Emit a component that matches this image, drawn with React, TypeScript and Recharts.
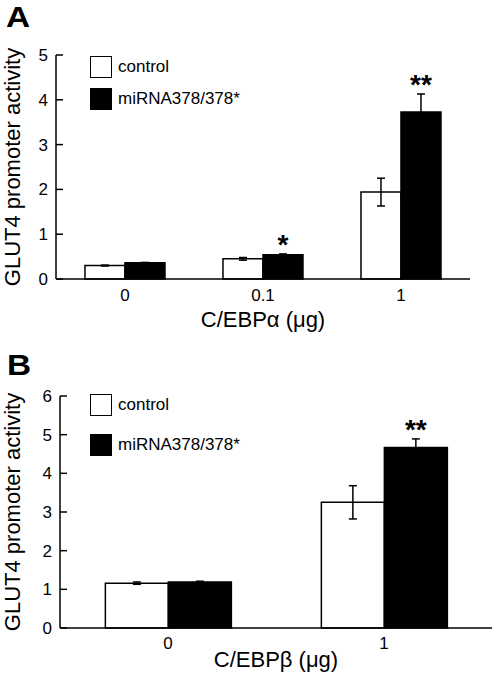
import React from 'react';
import { BarChart, Bar, XAxis, YAxis, ErrorBar, LabelList, Label } from 'recharts';

const FONT = '"Liberation Sans", Arial, Helvetica, sans-serif';

const seriesNames = ['control', 'miRNA378/378*'];
const seriesFills = ['#ffffff', '#000000'];

const categoriesA = ['0', '0.1', '1'];
const controlA = [0.3, 0.45, 1.94];
const controlErrA = [0.01, 0.03, 0.31];
const mirnaA = [0.36, 0.54, 3.73];
const mirnaErrA = [0.01, 0.02, 0.4];
const sigA = ['', '*', '**'];
const yTicksA = [0, 1, 2, 3, 4, 5];
const xTitleA = 'C/EBP\u03B1 (\u03BCg)';

const categoriesB = ['0', '1'];
const controlB = [1.16, 3.25];
const controlErrB = [0.03, 0.43];
const mirnaB = [1.19, 4.67];
const mirnaErrB = [0.02, 0.22];
const sigB = ['', '**'];
const yTicksB = [0, 1, 2, 3, 4, 5, 6];
const xTitleB = 'C/EBP\u03B2 (\u03BCg)';

const yTitle = 'GLUT4 promoter activity';
const panelLabels = ['A', 'B'];

type Row = { cat: string; control: number; controlErr: number; mirna: number; mirnaErr: number; sig: string };

const buildRows = (cats: string[], c: number[], ce: number[], m: number[], me: number[], s: string[]): Row[] =>
  cats.map((cat, i) => ({ cat, control: c[i], controlErr: ce[i], mirna: m[i], mirnaErr: me[i], sig: s[i] }));

const rowsA = buildRows(categoriesA, controlA, controlErrA, mirnaA, mirnaErrA, sigA);
const rowsB = buildRows(categoriesB, controlB, controlErrB, mirnaB, mirnaErrB, sigB);

const TICK_MARGIN_Y = 8;
const TICK_LEN = 7;

const YTick = (props: any) => {
  const { x, y, payload } = props;
  return (
    <g>
      <line x1={x + TICK_MARGIN_Y} x2={x + TICK_MARGIN_Y + TICK_LEN} y1={y} y2={y} stroke="#000" strokeWidth={1.5} />
      <text x={x} y={y} dy="0.355em" textAnchor="end" fontSize={17} fontFamily={FONT} fill="#000">
        {payload.value}
      </text>
    </g>
  );
};

const XTick = (props: any) => {
  const { x, y, payload } = props;
  return (
    <text x={x} y={y} dy="0.71em" textAnchor="middle" fontSize={17} fontFamily={FONT} fill="#000">
      {payload.value}
    </text>
  );
};

const makeXTitle = (title: string, baselineOffset: number) => (props: any) => {
  const vb = props.viewBox || {};
  return (
    <text x={vb.x + vb.width / 2} y={vb.y + baselineOffset} textAnchor="middle" fontSize={22} fontFamily={FONT} fill="#000">
      {title}
    </text>
  );
};

const makeYTitle = (title: string) => (props: any) => {
  const vb = props.viewBox || {};
  const cx = 20;
  const cy = vb.y + vb.height / 2;
  return (
    <text x={cx} y={cy} transform={`rotate(-90, ${cx}, ${cy})`} textAnchor="middle" fontSize={22} fontFamily={FONT} fill="#000">
      {title}
    </text>
  );
};

const makeStar = (rows: Row[]) => (props: any) => {
  const vb = props.viewBox || {};
  const x = props.x ?? vb.x;
  const y = props.y ?? vb.y;
  const width = props.width ?? vb.width;
  const height = props.height ?? vb.height;
  const idx = props.index;
  const row = rows[idx];
  if (!row || !row.sig) return null;
  const ppu = height / row.mirna;
  const top = y - row.mirnaErr * ppu;
  return (
    <text x={x + width / 2} y={top} textAnchor="middle" fontSize={28} fontWeight="bold" fontFamily={FONT} fill="#000">
      {row.sig}
    </text>
  );
};

const LegendBox = ({ left, top, pitch }: { left: number; top: number; pitch: number }) => (
  <div style={{ position: 'absolute', left, top }}>
    {seriesNames.map((name, i) => (
      <div key={name} style={{ position: 'absolute', left: 0, top: i * pitch, display: 'flex', alignItems: 'center', whiteSpace: 'nowrap' }}>
        <div style={{ width: 22, height: 22, boxSizing: 'border-box', border: '1.5px solid #000', background: seriesFills[i] }} />
        <span style={{ marginLeft: 6, fontSize: 17, lineHeight: '22px', fontFamily: FONT, color: '#000' }}>{name}</span>
      </div>
    ))}
  </div>
);

export default function App() {
  return (
    <div style={{ position: 'absolute', left: 0, top: 0, width: 497, height: 674, background: '#fff', overflow: 'hidden' }}>
      <div style={{ position: 'absolute', left: 0, top: 0 }}>
        <BarChart width={497} height={340} data={rowsA} margin={{ top: 55, right: 27, left: 0, bottom: 11 }} barCategoryGap="21%" barGap={0}>
          <XAxis dataKey="cat" height={50} tickLine={false} tickSize={0} tickMargin={10} tick={<XTick />} axisLine={{ stroke: '#000', strokeWidth: 1.5 }}>
            <Label content={makeXTitle(xTitleA, 48)} />
          </XAxis>
          <YAxis type="number" domain={[0, 5]} ticks={yTicksA} width={56} tickLine={false} tickSize={0} tickMargin={TICK_MARGIN_Y} tick={<YTick />} axisLine={{ stroke: '#000', strokeWidth: 1.5 }} interval={0}>
            <Label content={makeYTitle(yTitle)} />
          </YAxis>
          <Bar dataKey="control" fill={seriesFills[0]} stroke="#000" strokeWidth={1.5} isAnimationActive={false}>
            <ErrorBar dataKey="controlErr" width={4} stroke="#000" strokeWidth={1.5} direction="y" />
          </Bar>
          <Bar dataKey="mirna" fill={seriesFills[1]} stroke="#000" strokeWidth={1.5} isAnimationActive={false}>
            <ErrorBar dataKey="mirnaErr" width={4} stroke="#000" strokeWidth={1.5} direction="y" />
            <LabelList dataKey="sig" content={makeStar(rowsA)} />
          </Bar>
        </BarChart>
      </div>
      <div style={{ position: 'absolute', left: 0, top: 330 }}>
        <BarChart width={497} height={344} data={rowsB} margin={{ top: 66, right: 5, left: 0, bottom: 1 }} barCategoryGap="21%" barGap={0}>
          <XAxis dataKey="cat" height={45} tickLine={false} tickSize={0} tickMargin={9} tick={<XTick />} axisLine={{ stroke: '#000', strokeWidth: 1.5 }}>
            <Label content={makeXTitle(xTitleB, 39)} />
          </XAxis>
          <YAxis type="number" domain={[0, 6]} ticks={yTicksB} width={60} tickLine={false} tickSize={0} tickMargin={TICK_MARGIN_Y} tick={<YTick />} axisLine={{ stroke: '#000', strokeWidth: 1.5 }} interval={0}>
            <Label content={makeYTitle(yTitle)} />
          </YAxis>
          <Bar dataKey="control" fill={seriesFills[0]} stroke="#000" strokeWidth={1.5} isAnimationActive={false}>
            <ErrorBar dataKey="controlErr" width={4} stroke="#000" strokeWidth={1.5} direction="y" />
          </Bar>
          <Bar dataKey="mirna" fill={seriesFills[1]} stroke="#000" strokeWidth={1.5} isAnimationActive={false}>
            <ErrorBar dataKey="mirnaErr" width={4} stroke="#000" strokeWidth={1.5} direction="y" />
            <LabelList dataKey="sig" content={makeStar(rowsB)} />
          </Bar>
        </BarChart>
      </div>
      <LegendBox left={90} top={56} pitch={32} />
      <LegendBox left={90} top={394} pitch={40} />
      <svg width={497} height={674} style={{ position: 'absolute', left: 0, top: 0, pointerEvents: 'none' }}>
        <text transform="translate(6, 27) scale(1.15, 1)" fontSize={29} fontWeight="bold" fontFamily={FONT} fill="#000">{panelLabels[0]}</text>
        <text transform="translate(7, 375) scale(1.15, 1)" fontSize={29} fontWeight="bold" fontFamily={FONT} fill="#000">{panelLabels[1]}</text>
      </svg>
    </div>
  );
}
